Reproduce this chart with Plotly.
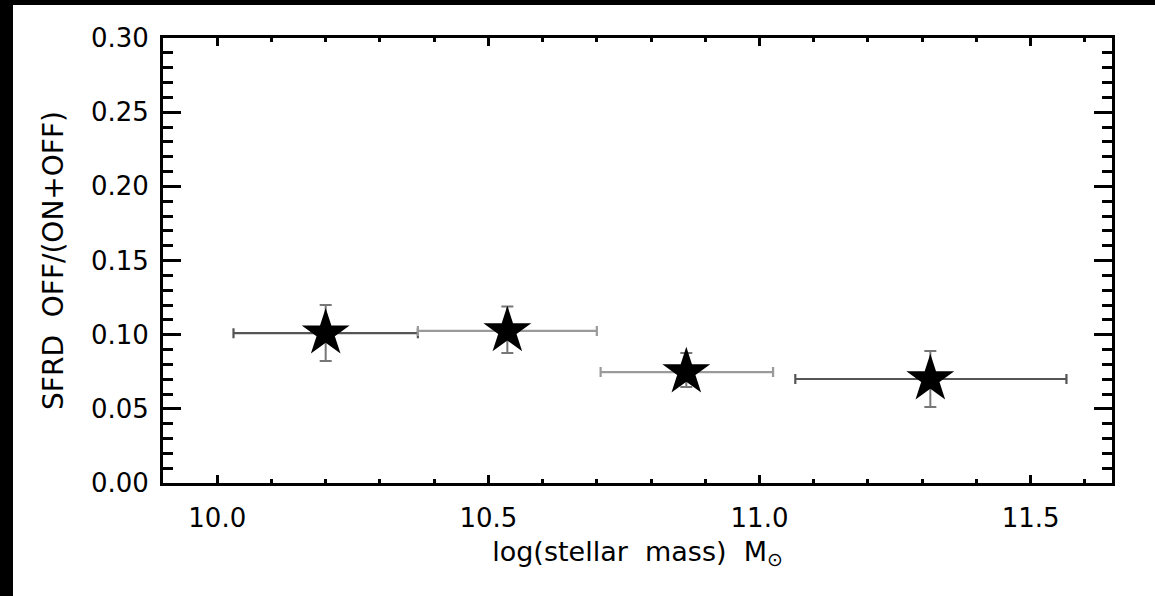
import plotly.graph_objects as go

# Data
mass = [10.20, 10.535, 10.865, 11.315]
ratio = [0.101, 0.1025, 0.0748, 0.0701]
y_err_plus = [0.019, 0.0165, 0.0128, 0.0189]
y_err_minus = [0.0188, 0.0149, 0.0101, 0.0189]
x_left = [10.03, 10.37, 10.707, 11.066]
x_right = [10.37, 10.70, 11.025, 11.566]
bar_colors = ["#555555", "#9a9a9a", "#9a9a9a", "#555555"]

x_ticks = [10.0, 10.5, 11.0, 11.5]
y_ticks = [0.00, 0.05, 0.10, 0.15, 0.20, 0.25, 0.30]

W, H = 1155, 596
L, R, T, B = 163, 1112, 38, 483

fig = go.Figure()
for i in range(len(mass)):
    fig.add_trace(go.Scatter(
        x=[mass[i]], y=[ratio[i]], mode="markers",
        marker=dict(symbol="star", size=36, color="black", line=dict(width=0)),
        error_x=dict(type="data", symmetric=False,
                     array=[x_right[i] - mass[i]], arrayminus=[mass[i] - x_left[i]],
                     color=bar_colors[i], thickness=2.2, width=5),
        error_y=dict(type="data", symmetric=False,
                     array=[y_err_plus[i]], arrayminus=[y_err_minus[i]],
                     color="#777777", thickness=2, width=6),
        showlegend=False,
    ))

font = "DejaVu Sans"
pw = R - L
ph = B - T
shapes = [
    dict(type="rect", xref="paper", yref="paper",
         x0=-L / pw, x1=(13 - L) / pw, y0=(B - H) / ph, y1=B / ph,
         fillcolor="black", line=dict(width=0), layer="below"),
    dict(type="rect", xref="paper", yref="paper",
         x0=-L / pw, x1=(W - L) / pw, y0=(B - 5) / ph, y1=B / ph,
         fillcolor="black", line=dict(width=0), layer="below"),
]

fig.update_layout(
    width=W, height=H,
    margin=dict(l=L, r=W - R, t=T, b=H - B),
    paper_bgcolor="white", plot_bgcolor="white",
    shapes=shapes,
    font=dict(family=font, color="black"),
    xaxis=dict(
        range=[9.9, 11.65], tickvals=x_ticks, ticktext=["10.0", "10.5", "11.0", "11.5"],
        ticks="inside", ticklen=8, tickwidth=2.5, tickcolor="black",
        minor=dict(dtick=0.1, tick0=10.0, ticks="inside", ticklen=4, tickwidth=2.5, tickcolor="black"),
        showline=True, linecolor="black", linewidth=3, mirror="ticks",
        showgrid=False, zeroline=False,
        tickfont=dict(size=26, family=font), ticklabelstandoff=10,
        title=dict(text="log(stellar\u00a0 mass)\u00a0 M<sub>⊙</sub>", font=dict(size=27, family=font), standoff=10),
    ),
    yaxis=dict(
        range=[0, 0.3], tickvals=y_ticks, ticktext=["%.2f" % v for v in y_ticks],
        ticks="inside", ticklen=18, tickwidth=2.5, tickcolor="black",
        minor=dict(dtick=0.01, tick0=0, ticks="inside", ticklen=10, tickwidth=2.5, tickcolor="black"),
        showline=True, linecolor="black", linewidth=3, mirror="ticks",
        showgrid=False, zeroline=False,
        tickfont=dict(size=26, family=font), ticklabelstandoff=6,
        title=dict(text="SFRD\u00a0 OFF/(ON+OFF)", font=dict(size=28, family=font), standoff=20),
    ),
)

fig.write_html("out.html", config={"displayModeBar": False},
               post_script="document.body.style.margin='0';")
